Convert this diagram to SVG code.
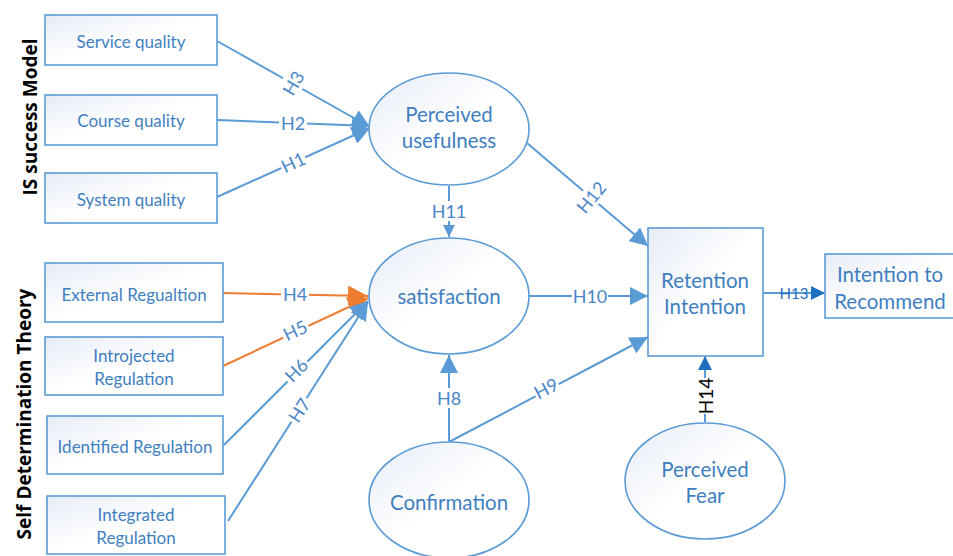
<svg xmlns="http://www.w3.org/2000/svg" width="953" height="556" viewBox="0 0 953 556">
<style>
.box{fill:url(#g);stroke:#5B9BD5;stroke-width:1.6}
.t{font-family:Lato,"Open Sans",sans-serif;fill:#3F7FC1;text-anchor:middle;dominant-baseline:central}
.s{font-size:17px}
.e{font-size:20.5px}
.lb{font-family:Lato,"Open Sans",sans-serif;fill:#4A86C8;font-size:18px;text-anchor:middle;dominant-baseline:central}
.side{font-family:"Open Sans",Lato,sans-serif;font-weight:bold;fill:#000;font-size:19px;text-anchor:middle;dominant-baseline:central}
.c{fill:none;stroke:#5B9BD5;stroke-width:2}
.o{fill:none;stroke:#ED7D31;stroke-width:2}
.bg{fill:#fff}
</style>
<defs>
<linearGradient id="g" x1="0" y1="0" x2="1" y2="1">
<stop offset="0" stop-color="#E6ECF6"/>
<stop offset="0.5" stop-color="#FFFFFF"/>
<stop offset="1" stop-color="#FFFFFF"/>
</linearGradient>
<marker id="ab" viewBox="0 0 10 10" refX="10" refY="5" markerWidth="18" markerHeight="18" markerUnits="userSpaceOnUse" orient="auto"><path d="M0,0L10,5L0,10z" fill="#5B9BD5"/></marker>
<marker id="ao" viewBox="0 0 10 10" refX="10" refY="5" markerWidth="20" markerHeight="20" markerUnits="userSpaceOnUse" orient="auto"><path d="M0,0L10,5L0,10z" fill="#ED7D31"/></marker>
<marker id="as" viewBox="0 0 10 10" refX="10" refY="5" markerWidth="12" markerHeight="12" markerUnits="userSpaceOnUse" orient="auto"><path d="M0,0L10,5L0,10z" fill="#5B9BD5"/></marker>
<marker id="ad" viewBox="0 0 10 10" refX="10" refY="5" markerWidth="14" markerHeight="14" markerUnits="userSpaceOnUse" orient="auto"><path d="M0,0L10,5L0,10z" fill="#1F6FC0"/></marker>
</defs>
<rect width="953" height="556" fill="#fff"/>
<text class="side" transform="translate(30,117) rotate(-90)">IS success Model</text>
<text class="side" transform="translate(24,414) rotate(-90)">Self Determination Theory</text>

<g id="connectors">
<line class="c" x1="217" y1="41" x2="370" y2="127" marker-end="url(#ab)"/>
<line class="c" x1="217" y1="120" x2="370" y2="126" marker-end="url(#ab)"/>
<line class="c" x1="217" y1="197" x2="370" y2="128" marker-end="url(#ab)"/>
<line class="c" x1="449" y1="186" x2="449" y2="237" marker-end="url(#as)"/>
<line class="c" x1="527" y1="143" x2="648" y2="246" marker-end="url(#ab)"/>
<line class="o" x1="223" y1="293" x2="368" y2="296" marker-end="url(#ao)"/>
<line class="o" x1="223" y1="366" x2="368" y2="298" marker-end="url(#ao)"/>
<line class="c" x1="224" y1="445" x2="368" y2="301" marker-end="url(#ab)"/>
<line class="c" x1="228" y1="521" x2="368" y2="302" marker-end="url(#ab)"/>
<line class="c" x1="528" y1="296" x2="648" y2="296" marker-end="url(#ab)"/>
<line class="c" x1="449" y1="442" x2="449" y2="355" marker-end="url(#ab)"/>
<line class="c" x1="449" y1="442" x2="648" y2="337" marker-end="url(#ab)"/>
<line class="c" x1="763" y1="293" x2="825" y2="293" marker-end="url(#ad)"/>
<line class="c" x1="705" y1="422" x2="705" y2="356" marker-end="url(#ad)"/>
<g>
<rect class="bg" x="280" y="72" width="26" height="22" transform="rotate(-60 293 83)"/>
<text class="lb" transform="translate(293,83) rotate(-60)">H3</text>
<rect class="bg" x="279" y="113" width="28" height="20"/>
<text class="lb" x="293" y="123">H2</text>
<rect class="bg" x="280" y="152" width="26" height="20" transform="rotate(-25 293 162)"/>
<text class="lb" transform="translate(293,162) rotate(-25)">H1</text>
<rect class="bg" x="431" y="201" width="36" height="20"/>
<text class="lb" x="449" y="211">H11</text>
<rect class="bg" x="574" y="187" width="34" height="20" transform="rotate(-50 591 197)"/>
<text class="lb" transform="translate(591,197) rotate(-50)">H12</text>
<rect class="bg" x="281" y="284" width="28" height="20"/>
<text class="lb" x="295" y="294">H4</text>
<rect class="bg" x="281" y="320" width="28" height="20" transform="rotate(-25 295 330)"/>
<text class="lb" transform="translate(295,330) rotate(-25)">H5</text>
<rect class="bg" x="282" y="360" width="28" height="20" transform="rotate(-45 296 370)"/>
<text class="lb" transform="translate(296,370) rotate(-45)">H6</text>
<rect class="bg" x="285" y="400" width="28" height="20" transform="rotate(-57 299 410)"/>
<text class="lb" transform="translate(299,410) rotate(-57)">H7</text>
<rect class="bg" x="572" y="286" width="36" height="20"/>
<text class="lb" x="590" y="296">H10</text>
<rect class="bg" x="435" y="388" width="28" height="20"/>
<text class="lb" x="449" y="398">H8</text>
<rect class="bg" x="533" y="378" width="26" height="20" transform="rotate(-28 546 388)"/>
<text class="lb" transform="translate(546,388) rotate(-28)">H9</text>
<text class="lb" x="794" y="293" style="font-size:15px;fill:#1F6FC0">H13</text>
<rect class="bg" x="695" y="378" width="20" height="36"/>
<text class="lb" transform="translate(705,396) rotate(-90)" style="fill:#000;font-size:19px">H14</text>
</g>
</g>

<g id="n-service"><rect class="box" x="45" y="15" width="172" height="50"/><text class="t s" x="131" y="41">Service quality</text></g>
<g id="n-course"><rect class="box" x="45" y="95" width="172" height="50"/><text class="t s" x="131" y="120">Course quality</text></g>
<g id="n-system"><rect class="box" x="45" y="173" width="172" height="50"/><text class="t s" x="131" y="199">System quality</text></g>
<g id="n-external"><rect class="box" x="45" y="263" width="178" height="59"/><text class="t s" x="134" y="294">External Regualtion</text></g>
<g id="n-introjected"><rect class="box" x="45" y="337" width="178" height="58"/><text class="t s" x="134" y="355">Introjected</text><text class="t s" x="134" y="378">Regulation</text></g>
<g id="n-identified"><rect class="box" x="47" y="416" width="176" height="58"/><text class="t s" x="135" y="446">Identified Regulation</text></g>
<g id="n-integrated"><rect class="box" x="47" y="496" width="178" height="58"/><text class="t s" x="136" y="514">Integrated</text><text class="t s" x="136" y="537">Regulation</text></g>
<g id="n-usefulness"><ellipse class="box" cx="449" cy="129" rx="80" ry="56"/><text class="t e" x="449" y="114">Perceived</text><text class="t e" x="449" y="140">usefulness</text></g>
<g id="n-satisfaction"><ellipse class="box" cx="449" cy="296" rx="80" ry="58"/><text class="t e" x="449" y="296">satisfaction</text></g>
<g id="n-confirmation"><ellipse class="box" cx="449" cy="500" rx="80" ry="58"/><text class="t e" x="449" y="502">Confirmation</text></g>
<g id="n-retention"><rect class="box" x="648" y="228" width="115" height="128"/><text class="t e" x="705" y="280">Retention</text><text class="t e" x="705" y="306">Intention</text></g>
<g id="n-recommend"><rect class="box" x="825" y="254" width="135" height="64"/><text class="t e" x="890" y="274">Intention to</text><text class="t e" x="890" y="301">Recommend</text></g>
<g id="n-fear"><ellipse class="box" cx="705" cy="481" rx="80" ry="58"/><text class="t e" x="705" y="469">Perceived</text><text class="t e" x="705" y="495">Fear</text></g>
</svg>
